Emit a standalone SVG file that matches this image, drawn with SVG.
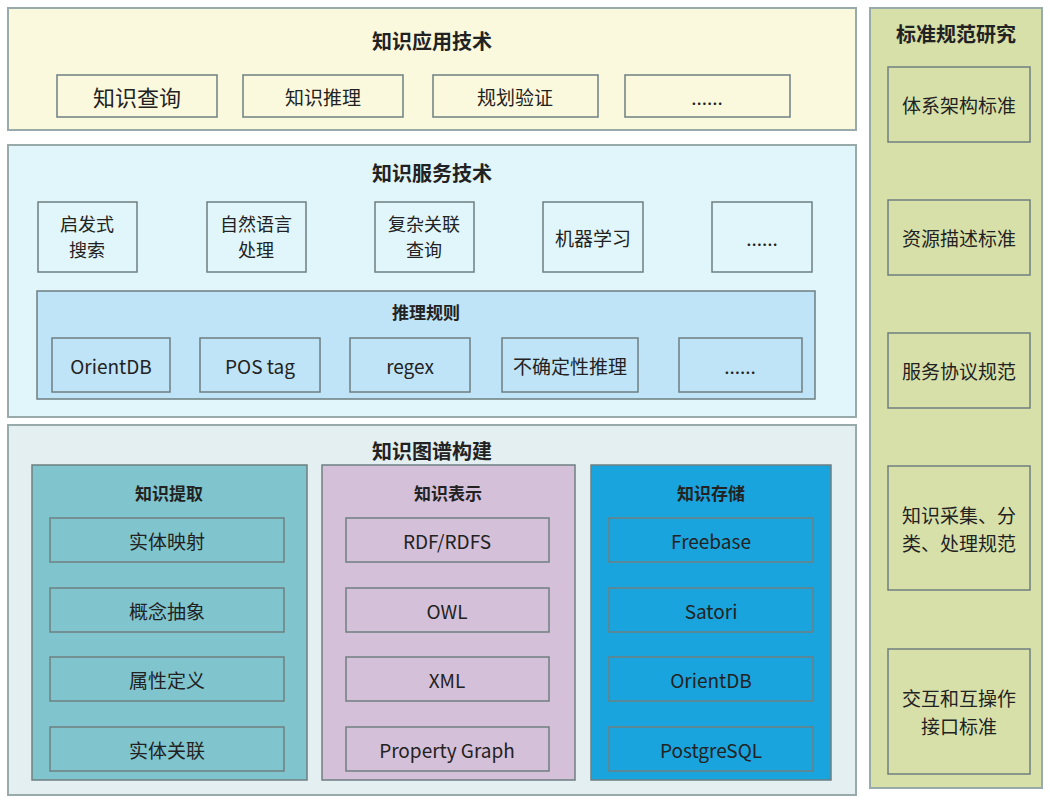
<svg xmlns="http://www.w3.org/2000/svg" width="1050" height="800" viewBox="0 0 1050 800">
<style>
text{font-family:"Noto Sans CJK SC","Noto Sans",sans-serif;font-size:19px;fill:#222;text-anchor:middle;dominant-baseline:central}
.t{font-weight:bold;font-size:20px}
.s{font-weight:bold;font-size:17px}
.m{font-size:18px}
.p{stroke:#9aa;stroke-width:2}
.b{stroke:#6f7f80;stroke-width:1.5}
</style>
<rect width="1050" height="800" fill="#fff"/>
<g id="app">
<rect class="p" x="8" y="8" width="848" height="122" fill="#fbf9dd"/>
<text class="t" x="432" y="40">知识应用技术</text>
<rect class="b" x="57" y="75" width="160" height="42" fill="#fbf9dd"/><text x="137" y="96" style="font-size:22px">知识查询</text>
<rect class="b" x="243" y="75" width="160" height="42" fill="#fbf9dd"/><text x="323" y="96">知识推理</text>
<rect class="b" x="433" y="75" width="165" height="42" fill="#fbf9dd"/><text x="515" y="96">规划验证</text>
<rect class="b" x="625" y="75" width="165" height="42" fill="#fbf9dd"/><text x="707" y="96">......</text>
</g>
<g id="service">
<rect class="p" x="8" y="145" width="848" height="272" fill="#e1f6fb"/>
<text class="t" x="432" y="172">知识服务技术</text>
<rect class="b" x="38" y="202" width="99" height="70" fill="#e1f6fb"/><text class="m" x="87" y="223">启发式</text><text class="m" x="87" y="249">搜索</text>
<rect class="b" x="207" y="202" width="99" height="70" fill="#e1f6fb"/><text class="m" x="256" y="223">自然语言</text><text class="m" x="256" y="249">处理</text>
<rect class="b" x="375" y="202" width="99" height="70" fill="#e1f6fb"/><text class="m" x="424" y="223">复杂关联</text><text class="m" x="424" y="249">查询</text>
<rect class="b" x="543" y="202" width="100" height="70" fill="#e1f6fb"/><text x="593" y="237">机器学习</text>
<rect class="b" x="712" y="202" width="100" height="70" fill="#e1f6fb"/><text x="762" y="237">......</text>
</g>
<g id="rules">
<rect class="b" x="37" y="291" width="778" height="108" fill="#bfe3f7"/>
<text class="s" x="426" y="311">推理规则</text>
<rect class="b" x="52" y="338" width="118" height="54" fill="#bfe3f7"/><text x="111" y="365">OrientDB</text>
<rect class="b" x="200" y="338" width="120" height="54" fill="#bfe3f7"/><text x="260" y="365">POS tag</text>
<rect class="b" x="350" y="338" width="120" height="54" fill="#bfe3f7"/><text x="410" y="365">regex</text>
<rect class="b" x="502" y="338" width="136" height="54" fill="#bfe3f7"/><text x="570" y="365">不确定性推理</text>
<rect class="b" x="679" y="338" width="123" height="54" fill="#bfe3f7"/><text x="740" y="365">......</text>
</g>
<g id="build">
<rect class="p" x="8" y="425" width="848" height="370" fill="#e3eff1"/>
<text class="t" x="432" y="450">知识图谱构建</text>
</g>
<g id="extract">
<rect class="b" x="32" y="465" width="275" height="315" fill="#80c5cd"/>
<text class="s" x="169" y="492">知识提取</text>
<rect class="b" x="50" y="518" width="234" height="44" fill="#80c5cd"/><text x="167" y="540">实体映射</text>
<rect class="b" x="50" y="588" width="234" height="44" fill="#80c5cd"/><text x="167" y="610">概念抽象</text>
<rect class="b" x="50" y="657" width="234" height="44" fill="#80c5cd"/><text x="167" y="679">属性定义</text>
<rect class="b" x="50" y="727" width="234" height="44" fill="#80c5cd"/><text x="167" y="749">实体关联</text>
</g>
<g id="repr">
<rect class="b" x="322" y="465" width="253" height="315" fill="#d5c0d9"/>
<text class="s" x="448" y="492">知识表示</text>
<rect class="b" x="346" y="518" width="203" height="44" fill="#d5c0d9"/><text x="447" y="540">RDF/RDFS</text>
<rect class="b" x="346" y="588" width="203" height="44" fill="#d5c0d9"/><text x="447" y="610">OWL</text>
<rect class="b" x="346" y="657" width="203" height="44" fill="#d5c0d9"/><text x="447" y="679">XML</text>
<rect class="b" x="346" y="727" width="203" height="44" fill="#d5c0d9"/><text x="447" y="749">Property Graph</text>
</g>
<g id="store">
<rect class="b" x="591" y="465" width="240" height="315" fill="#19a4dd"/>
<text class="s" x="711" y="492">知识存储</text>
<rect class="b" x="609" y="518" width="204" height="44" fill="#19a4dd"/><text x="711" y="540">Freebase</text>
<rect class="b" x="609" y="588" width="204" height="44" fill="#19a4dd"/><text x="711" y="610">Satori</text>
<rect class="b" x="609" y="657" width="204" height="44" fill="#19a4dd"/><text x="711" y="679">OrientDB</text>
<rect class="b" x="609" y="727" width="204" height="44" fill="#19a4dd"/><text x="711" y="749">PostgreSQL</text>
</g>
<g id="standard">
<rect class="p" x="870" y="8" width="172" height="780" fill="#d7e0a9"/>
<text class="t" x="956" y="33">标准规范研究</text>
<rect class="b" x="888" y="67" width="142" height="75" fill="#d7e0a9"/><text x="959" y="104">体系架构标准</text>
<rect class="b" x="888" y="200" width="142" height="75" fill="#d7e0a9"/><text x="959" y="237">资源描述标准</text>
<rect class="b" x="888" y="333" width="142" height="75" fill="#d7e0a9"/><text x="959" y="370">服务协议规范</text>
<rect class="b" x="888" y="466" width="142" height="124" fill="#d7e0a9"/><text x="959" y="514">知识采集、分</text><text x="959" y="542">类、处理规范</text>
<rect class="b" x="888" y="649" width="142" height="125" fill="#d7e0a9"/><text x="959" y="697">交互和互操作</text><text x="959" y="725">接口标准</text>
</g>
<g id="connectors"/>
</svg>
